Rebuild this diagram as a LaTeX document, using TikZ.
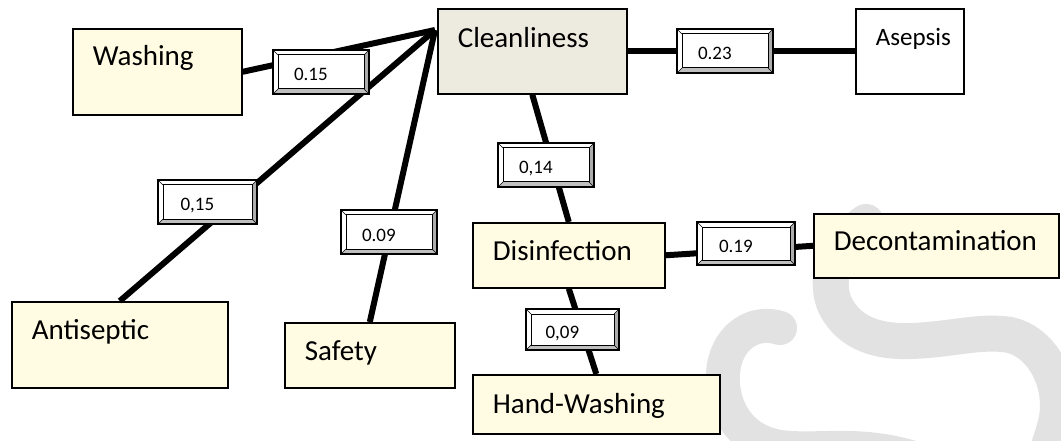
\documentclass[tikz,border=0pt]{standalone}
\usepackage{fontspec}
\setmainfont{Carlito}
\definecolor{cream}{HTML}{FFFCE3}
\definecolor{tan}{HTML}{EDEADF}
\definecolor{wmark}{HTML}{E2E2E2}
\newcommand\entfont{\fontsize{29}{34}\selectfont}
\newcommand\lblfont{\fontsize{19}{22}\selectfont}
\newcommand\lbltext[1]{\makebox[86pt][l]{\hspace{16pt}#1}}
\tikzset{
  ent/.style={draw=black, line width=1.6pt, inner sep=0pt, align=left, font=\entfont, anchor=north west},
  conn/.style={line width=6pt, black},
  wm/.style={wmark, line width=36pt, line cap=round},
  lbl/.style={draw=black, line width=1.3pt, fill=white, inner sep=0pt,
    minimum width=96pt, minimum height=44pt, text height=18pt, text depth=0pt, font=\lblfont,
    path picture={
      \path (path picture bounding box.south west) coordinate (@sw)
            (path picture bounding box.south east) coordinate (@se)
            (path picture bounding box.north east) coordinate (@ne)
            (path picture bounding box.north west) coordinate (@nw);
      \fill[gray!50] (@sw) -- (@se) -- ([xshift=-5pt,yshift=5pt]@se) -- ([xshift=5pt,yshift=5pt]@sw) -- cycle;
      \fill[gray!65] (@se) -- (@ne) -- ([xshift=-5pt,yshift=-5pt]@ne) -- ([xshift=-5pt,yshift=5pt]@se) -- cycle;
      \draw[line width=1pt] ([xshift=5pt,yshift=5pt]@sw) rectangle ([xshift=-5pt,yshift=-5pt]@ne);
      \draw[line width=0.6pt] (@sw) -- ([xshift=5pt,yshift=5pt]@sw)
                              (@se) -- ([xshift=-5pt,yshift=5pt]@se)
                              (@ne) -- ([xshift=-5pt,yshift=-5pt]@ne)
                              (@nw) -- ([xshift=5pt,yshift=-5pt]@nw);
    }}
}
% name, fill, x, y, width, height, text height, text
\newcommand\ent[8]{%
  \pgfmathsetmacro\entdepth{#6-#7}%
  \node[ent, fill=#2, text width=#5pt, text height=#7pt, text depth=\entdepth pt] (#1) at (#3,#4) {\hspace*{20pt}#8};}
\begin{document}
\begin{tikzpicture}[x=1pt, y=-1pt]
  \useasboundingbox (0,0) rectangle (1061,441);
  \fill[white] (0,0) rectangle (1061,441);
  % watermark
  \begin{scope}
    \clip (0,0) rectangle (1061,441);
    \draw[wm] (866,222) .. controls (840,240) and (822,275) .. (835,305)
      .. controls (850,335) and (880,342) .. (910,341)
      .. controls (950,340) and (980,330) .. (1010,335)
      .. controls (1040,342) and (1058,375) .. (1058,405)
      .. controls (1058,425) and (1050,440) .. (1045,460);
    \draw[wm, line width=34pt] (780,328) .. controls (755,320) and (730,335) .. (724,365)
      .. controls (718,400) and (735,440) .. (780,447)
      .. controls (820,452) and (860,440) .. (920,460);
  \end{scope}
  % entities
  \ent{wash}{cream}{72}{28}{169}{86}{37}{Washing}
  \ent{clean}{tan}{437}{8}{189}{85}{39}{Cleanliness}
  \node[ent, fill=white, text width=108pt, text height=37pt, text depth=48pt,
        font=\fontsize{25}{30}\selectfont] (asep) at (855,8) {\hspace*{20pt}Asepsis};
  \ent{anti}{cream}{11}{301}{216}{86}{38}{Antiseptic}
  \ent{safe}{cream}{284}{322}{170}{65}{38}{Safety}
  \ent{dis}{cream}{472}{222}{192}{65}{38}{Disinfection}
  \ent{deco}{cream}{813}{213}{245}{64}{37}{Decontamination}
  \ent{hw}{cream}{472}{374}{247}{59}{39}{Hand-Washing}
  % connectors
  \coordinate (hub) at ([xshift=-2pt,yshift=-22pt]clean.north west);
  \draw[conn] (wash.east) -- (hub);
  \draw[conn] (anti.north) -- (hub);
  \draw[conn] (safe.north) -- (hub);
  \draw[conn] (clean.east) -- (asep.west);
  \draw[conn] (clean.south) -- (dis.north);
  \draw[conn] (dis.east) -- (deco.west);
  \draw[conn] (dis.south) -- (hw.north);
  % weight labels
  \node[lbl] (l1) at (321,72) {\lbltext{0.15}};
  \node[lbl] (l2) at (725,51) {\lbltext{0.23}};
  \node[lbl, minimum width=99pt] (l3) at (207.5,202) {\lbltext{0,15}};
  \node[lbl] (l4) at (389,232) {\lbltext{0.09}};
  \node[lbl] (l5) at (546,165) {\lbltext{0,14}};
  \node[lbl, minimum width=98pt, minimum height=43pt] (l6) at (746,243.5) {\lbltext{0.19}};
  \node[lbl, minimum width=93pt, minimum height=41pt] (l7) at (572.5,329.5) {\lbltext{0,09}};
\end{tikzpicture}
\end{document}
